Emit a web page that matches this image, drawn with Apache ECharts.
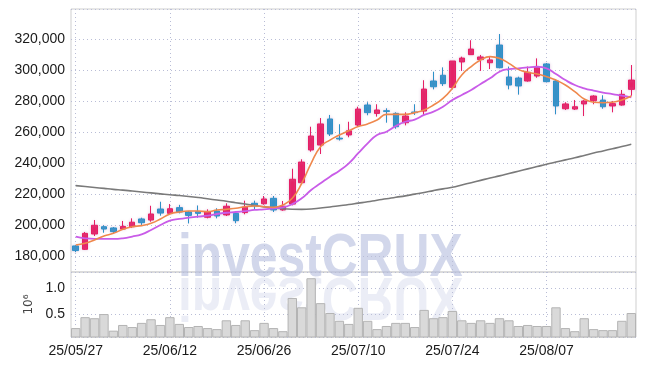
<!DOCTYPE html>
<html><head><meta charset="utf-8">
<script src="https://cdn.jsdelivr.net/npm/echarts@6/dist/echarts.min.js"></script>
<style>html,body{margin:0;padding:0;background:#fff}#c{width:645px;height:366px}</style>
</head><body><div id="c"></div>
<script>
const dates = ['25/05/27','25/05/28','25/05/29','25/05/30','25/06/02','25/06/04','25/06/05','25/06/09','25/06/10','25/06/11',
'25/06/12','25/06/13','25/06/16','25/06/17','25/06/18','25/06/19','25/06/20','25/06/23','25/06/24','25/06/25',
'25/06/26','25/06/27','25/06/30','25/07/01','25/07/02','25/07/03','25/07/04','25/07/07','25/07/08','25/07/09',
'25/07/10','25/07/11','25/07/14','25/07/15','25/07/16','25/07/17','25/07/18','25/07/21','25/07/22','25/07/23',
'25/07/24','25/07/25','25/07/28','25/07/29','25/07/30','25/07/31','25/08/01','25/08/04','25/08/05','25/08/06',
'25/08/07','25/08/08','25/08/11','25/08/12','25/08/13','25/08/14','25/08/18','25/08/19','25/08/20','25/08/21'];
const openP = [186500,184300,194200,198900,198100,197400,198900,203900,203200,210300,
207500,211200,208400,208600,205000,209000,206500,207500,208000,214000,
213700,217200,209700,213500,227300,248400,251600,268400,256000,258100,
264500,277400,272000,273700,272000,266000,272900,273500,292900,296600,
288800,305200,309900,306700,304700,316100,295500,294800,292900,296100,
303900,292900,275000,274800,278100,280200,280600,276800,277400,287500];
const closeP = [183500,194600,199800,197400,195700,199100,201800,201500,207100,207700,
210500,208400,206200,207500,208600,205800,212100,202800,211500,212400,
216800,209700,212100,229500,240600,257400,265200,258700,255500,260800,
274800,272500,274200,273300,263400,270300,272500,287700,289200,291200,
305800,307700,313500,308400,306500,301500,290300,289700,298500,301900,
292500,276800,278100,276300,280000,283200,276300,278300,284300,293500];
const lowP = [182500,183900,192900,195000,194800,197400,198100,200000,202100,206000,
206700,207500,201000,204700,204300,204300,205800,201100,206900,210300,
213100,208400,209200,212700,226500,247300,245800,257400,254500,256600,
263900,270800,269900,266000,262100,264300,271000,271000,287500,289700,
288200,299400,309900,299400,300600,301100,287500,284100,292500,295000,
292000,271400,274200,274200,270300,277900,275000,272700,277000,283400];
const highP = [187000,195500,203200,199800,198700,202600,204300,204700,212400,215000,
213500,213000,209000,212600,210100,210800,214000,208600,215700,215700,
218700,218700,215500,236300,242400,263400,269000,271000,265000,266600,
276300,279200,277900,275300,272700,272700,277900,293400,298900,301700,
305800,308600,319200,309700,308600,323200,302200,295700,302200,307500,
304500,293500,279200,280600,280600,283700,283700,280000,287100,303200];
const ma5 = [187100,188200,190300,192900,194600,197200,198900,199600,201100,203900,
207100,208400,209000,209000,208600,209700,210100,210800,211800,212300,
211800,211400,212900,217200,226900,239800,250500,254800,258100,260800,
263500,265200,267700,271400,271400,271400,272500,274200,277400,281700,
288200,296800,302200,306500,308600,307500,304300,300400,298500,297400,
295700,293500,290300,286000,281300,279200,278900,279200,280600,283200];
const ma20 = [192450,191400,191000,191000,191000,191400,192500,194000,196800,200000,
202800,203900,204700,205400,206000,207100,207900,208400,209000,209700,
210100,210800,211400,213500,217200,222600,226900,231200,235000,239800,
246300,252700,258100,260200,263900,266600,268000,271000,273100,276300,
280600,283900,287100,291000,294600,298900,300600,301100,301700,302100,
301100,297400,293500,290300,288200,286700,285400,284500,283400,282400];
const ma120 = [225400,224800,224200,223600,223000,222500,221900,221300,220700,220100,
219500,219000,218400,217700,216900,216100,215300,214400,213500,212600,
211700,211000,210500,210200,210100,210300,211000,211600,212400,213200,
214100,215000,216000,216900,217900,218800,219900,221000,222200,223300,
224300,225800,227300,228800,230300,231700,233200,234700,236200,237700,
239200,240600,242000,243400,244900,246400,247800,249200,250600,252100];
const volumeM = [0.23,0.44,0.42,0.50,0.18,0.29,0.25,0.33,0.40,0.29,
0.44,0.31,0.25,0.27,0.23,0.21,0.38,0.29,0.38,0.19,
0.33,0.23,0.17,0.81,0.63,1.19,0.71,0.52,0.37,0.31,
0.62,0.37,0.21,0.27,0.33,0.33,0.25,0.58,0.42,0.44,
0.56,0.38,0.33,0.38,0.33,0.42,0.38,0.27,0.29,0.27,
0.27,0.63,0.23,0.17,0.42,0.21,0.19,0.19,0.37,0.52];

const UP = '#e61e64', DOWN = '#2d91c8';
const FONT = '"Liberation Sans", Arial, sans-serif';
const WM_FONT = 'bold 61px "Liberation Sans"';
const gridLine = {show: true, lineStyle: {type: [1, 3], color: '#b9bdd6', width: 1}};

const candleData = dates.map((d, i) => [openP[i], closeP[i], lowP[i], highP[i]]);

const chart = echarts.init(document.getElementById('c'), null, {renderer: 'canvas'});
chart.setOption({
  animation: false,
  backgroundColor: '#fff',
  grid: [
    {left: 71, right: 9, top: 9, bottom: 94, show: true, borderColor: '#cfcfcf', borderWidth: 1},
    {left: 71, right: 9, top: 272, bottom: 29, show: true, borderColor: '#cfcfcf', borderWidth: 1}
  ],
  xAxis: [
    {type: 'category', gridIndex: 0, data: dates, boundaryGap: true,
     axisLine: {show: false}, axisTick: {show: false}, axisLabel: {show: false},
     splitLine: Object.assign({interval: 9, alignWithLabel: true}, gridLine)},
    {type: 'category', gridIndex: 1, data: dates, boundaryGap: true,
     axisLine: {show: false}, axisTick: {show: false},
     axisLabel: {interval: 9, color: '#1a1a1a', fontFamily: FONT, fontSize: 14, margin: 7},
     splitLine: Object.assign({interval: 9, alignWithLabel: true}, gridLine)}
  ],
  yAxis: [
    {type: 'value', gridIndex: 0, min: 169677, max: 339355, splitNumber: 8,
     axisLine: {show: false}, axisTick: {show: false},
     axisLabel: {color: '#1a1a1a', fontFamily: FONT, fontSize: 14, margin: 6, showMinLabel: false, showMaxLabel: false,
       formatter: v => v.toLocaleString('en-US')},
     splitLine: gridLine},
    {type: 'value', gridIndex: 1, min: 0.058, max: 1.31, splitNumber: 3,
     name: '10\u2076', nameLocation: 'middle', nameRotate: 90, nameGap: 27,
     nameTextStyle: {color: '#444', fontFamily: 'DejaVu Sans', fontSize: 12},
     axisLine: {show: false}, axisTick: {show: false},
     axisLabel: {color: '#1a1a1a', fontFamily: FONT, fontSize: 14, margin: 6, showMinLabel: false, showMaxLabel: false,
       formatter: v => v.toFixed(1)},
     splitLine: gridLine}
  ],
  series: [
    {type: 'bar', xAxisIndex: 1, yAxisIndex: 1, data: volumeM, barWidth: '100%', barCategoryGap: 0,
     itemStyle: {color: '#d9d9d9', borderColor: '#b4b4b4', borderWidth: 1}},
    {type: 'candlestick', xAxisIndex: 0, yAxisIndex: 0, data: candleData, barWidth: 6,
     itemStyle: {color: UP, color0: DOWN, borderColor: UP, borderColor0: DOWN, borderWidth: 1,
       shadowColor: 'rgba(200,150,200,0.45)', shadowBlur: 3}},
    {type: 'line', xAxisIndex: 0, yAxisIndex: 0, data: ma120, smooth: true, showSymbol: false,
     lineStyle: {color: '#7a7a7a', width: 1.6}, z: 3},
    {type: 'line', xAxisIndex: 0, yAxisIndex: 0, data: ma20, smooth: true, showSymbol: false,
     lineStyle: {color: '#c95ce8', width: 1.8}, z: 3},
    {type: 'line', xAxisIndex: 0, yAxisIndex: 0, data: ma5, smooth: true, showSymbol: false,
     lineStyle: {color: '#ef884d', width: 1.6}, z: 3}
  ],
  graphic: [
    {type: 'group', x: 178, y: 0, scaleX: 0.815, z: 100, silent: true,
     children: [{type: 'text', x: 0, y: 290, silent: true,
       style: {text: 'investCRUX', font: WM_FONT, fill: 'rgba(182,190,222,0.62)', textVerticalAlign: 'bottom'}}]},
    {type: 'group', x: 178, y: 554, scaleX: 0.815, scaleY: -1, z: 100, silent: true,
     children: [{type: 'text', x: 0, y: 290, silent: true,
       style: {text: 'investCRUX', font: WM_FONT, fill: 'rgba(182,190,222,0.28)', textVerticalAlign: 'bottom'}}]}
  ]
});
</script></body></html>
